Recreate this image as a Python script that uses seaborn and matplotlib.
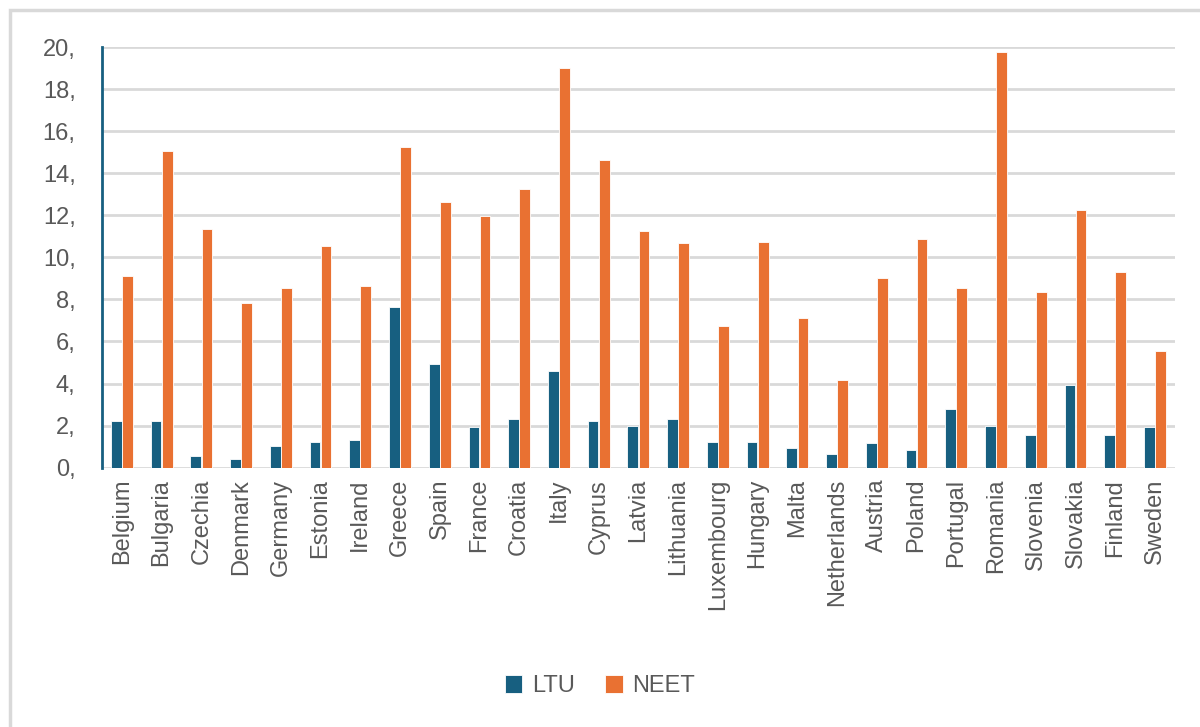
import pandas as pd
import matplotlib.pyplot as plt
import seaborn as sns
from matplotlib.patches import Rectangle

# Values
countries = ['Belgium', 'Bulgaria', 'Czechia', 'Denmark', 'Germany', 'Estonia', 'Ireland',
             'Greece', 'Spain', 'France', 'Croatia', 'Italy', 'Cyprus', 'Latvia', 'Lithuania',
             'Luxembourg', 'Hungary', 'Malta', 'Netherlands', 'Austria', 'Poland', 'Portugal',
             'Romania', 'Slovenia', 'Slovakia', 'Finland', 'Sweden']
ltu = [2.24, 2.24, 0.56, 0.4, 1.02, 1.24, 1.32, 7.66, 4.92, 1.94, 2.32, 4.62, 2.24, 2.0,
       2.32, 1.24, 1.24, 0.94, 0.63, 1.16, 0.86, 2.78, 2.0, 1.56, 3.92, 1.56, 1.94]
neet = [9.12, 15.08, 11.34, 7.82, 8.52, 10.56, 8.66, 15.24, 12.64, 11.96, 13.24, 19.0, 14.62,
        11.26, 10.66, 6.76, 10.74, 7.14, 4.16, 9.04, 10.88, 8.52, 19.78, 8.35, 12.27, 9.29, 5.54]
series = ['LTU', 'NEET']
y_ticks = [0, 2, 4, 6, 8, 10, 12, 14, 16, 18, 20]
y_tick_labels = [f'{t},' for t in y_ticks]

df = pd.DataFrame({'country': countries, 'LTU': ltu, 'NEET': neet})
long = df.melt(id_vars='country', value_vars=series, var_name='series', value_name='value')

sns.set_style('white')
plt.rcParams['font.family'] = ['Liberation Sans', 'DejaVu Sans']

fig = plt.figure(figsize=(12, 7.27), dpi=100)
ax = fig.add_axes([0.085, 0.3567, 0.894, 0.5786])

palette = {'LTU': '#175f80', 'NEET': '#e97132'}
sns.barplot(data=long, x='country', y='value', hue='series', palette=palette,
            width=0.56, gap=0.04, ax=ax, edgecolor='white', linewidth=0.6,
            saturation=1, legend=True)

ax.set_ylim(0, 20)
ax.set_xlim(-0.5, len(countries) - 0.5)
ax.set_yticks(y_ticks)
ax.set_yticklabels(y_tick_labels)
ax.yaxis.grid(True, color='#d9d9d9', linewidth=2)
ax.set_axisbelow(True)
ax.set_xlabel('')
ax.set_ylabel('')
ax.tick_params(axis='y', labelsize=17, labelcolor='#595959', length=0, pad=19)
ax.tick_params(axis='x', labelsize=17, labelcolor='#595959', length=0, rotation=90, pad=8)
for side in ['top', 'right', 'bottom']:
    ax.spines[side].set_visible(False)
ax.spines['left'].set_color('#175f80')
ax.spines['left'].set_linewidth(2)

ax.legend(loc='center', bbox_to_anchor=(0.5, 0.056), bbox_transform=fig.transFigure,
          ncol=2, frameon=False, fontsize=17, handlelength=0.75, handleheight=0.75,
          columnspacing=1.3, handletextpad=0.4, labelcolor='#595959')

# light gray chart border
fig.patches.append(Rectangle((0.008, -0.05), 1.1, 1.036, transform=fig.transFigure,
                             fill=False, edgecolor='#d9d9d9', linewidth=2.5))

fig.savefig('out.png', dpi=100)
